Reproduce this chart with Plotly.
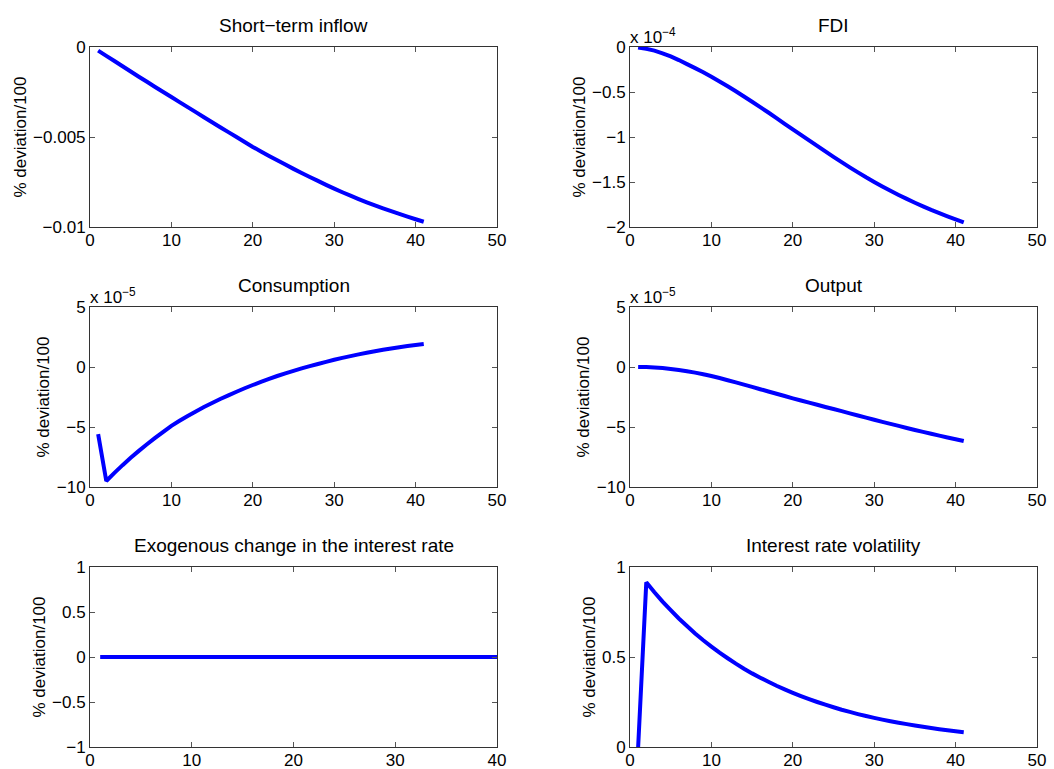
import plotly.graph_objects as go

# ---------------- data ----------------
periods = list(range(1, 42))

short_term_inflow = [
    -0.00020, -0.00049, -0.00078, -0.00107, -0.00136, -0.00165, -0.00193, -0.00222, -0.00250, -0.00278,
    -0.00306, -0.00334, -0.00362, -0.00390, -0.00418, -0.00446, -0.00473, -0.00500, -0.00528, -0.00555,
    -0.00580, -0.00605, -0.00629, -0.00653, -0.00677, -0.00700, -0.00722, -0.00744, -0.00766, -0.00787,
    -0.00807, -0.00826, -0.00845, -0.00863, -0.00880, -0.00896, -0.00912, -0.00927, -0.00942, -0.00957,
    -0.00971,
]

# FDI in units of 1e-4
fdi_e4 = [
    -0.005, -0.02, -0.04, -0.07, -0.105, -0.145, -0.19, -0.235, -0.28, -0.33,
    -0.383, -0.437, -0.492, -0.55, -0.608, -0.668, -0.728, -0.79, -0.853, -0.915,
    -0.977, -1.038, -1.099, -1.16, -1.22, -1.279, -1.337, -1.393, -1.448, -1.50,
    -1.55, -1.598, -1.644, -1.688, -1.73, -1.771, -1.81, -1.846, -1.881, -1.915,
    -1.948,
]

# Consumption in units of 1e-5
consumption_e5 = [
    -5.6, -9.5, -8.82, -8.18, -7.57, -6.99, -6.44, -5.91, -5.40, -4.90,
    -4.48, -4.08, -3.70, -3.34, -3.00, -2.67, -2.36, -2.06, -1.77, -1.50,
    -1.24, -0.99, -0.75, -0.53, -0.32, -0.12, 0.07, 0.25, 0.43, 0.60,
    0.76, 0.91, 1.05, 1.185, 1.315, 1.435, 1.545, 1.65, 1.75, 1.84,
    1.92,
]

# Output in units of 1e-5
output_e5 = [
    0.0, -0.01, -0.04, -0.09, -0.16, -0.25, -0.35, -0.47, -0.60, -0.75,
    -0.92, -1.10, -1.28, -1.47, -1.66, -1.85, -2.04, -2.23, -2.42, -2.61,
    -2.79, -2.97, -3.15, -3.33, -3.50, -3.68, -3.86, -4.04, -4.22, -4.40,
    -4.57, -4.74, -4.91, -5.08, -5.25, -5.41, -5.56, -5.72, -5.87, -6.02,
    -6.17,
]

exogenous_rate = [0.0] * 41

rate_volatility = [
    0.0, 0.915, 0.860, 0.808, 0.760, 0.714, 0.672, 0.631, 0.593, 0.558,
    0.524, 0.493, 0.463, 0.435, 0.409, 0.385, 0.362, 0.340, 0.320, 0.301,
    0.283, 0.266, 0.250, 0.235, 0.221, 0.207, 0.195, 0.183, 0.172, 0.162,
    0.152, 0.143, 0.135, 0.127, 0.119, 0.112, 0.105, 0.099, 0.093, 0.087,
    0.082,
]

titles = [
    "Short\u2212term inflow", "FDI",
    "Consumption", "Output",
    "Exogenous change in the interest rate", "Interest rate volatility",
]
series = [short_term_inflow, fdi_e4, consumption_e5, output_e5, exogenous_rate, rate_volatility]
exponents = [None, "\u22124", "\u22125", "\u22125", None, None]

x_ticks_50 = [0, 10, 20, 30, 40, 50]
x_ticks_40 = [0, 10, 20, 30, 40]
y_ticks = [
    ([-0.01, -0.005, 0], ["\u22120.01", "\u22120.005", "0"]),
    ([-2, -1.5, -1, -0.5, 0], ["\u22122", "\u22121.5", "\u22121", "\u22120.5", "0"]),
    ([-10, -5, 0, 5], ["\u221210", "\u22125", "0", "5"]),
    ([-10, -5, 0, 5], ["\u221210", "\u22125", "0", "5"]),
    ([-1, -0.5, 0, 0.5, 1], ["\u22121", "\u22120.5", "0", "0.5", "1"]),
    ([0, 0.5, 1], ["0", "0.5", "1"]),
]
y_ranges = [[-0.01, 0], [-2, 0], [-10, 5], [-10, 5], [-1, 1], [0, 1]]
x_ranges = [[0, 50], [0, 50], [0, 50], [0, 50], [0, 40], [0, 50]]
ylabel = "% deviation/100"

# ---------------- layout ----------------
W, H = 1054, 769
col_px = [(90, 497), (630, 1037)]
row_px = [(47, 227), (307, 487), (567, 747)]

FONT = "Liberation Sans, Arial, Helvetica, sans-serif"
fig = go.Figure()
annotations = []
layout_axes = {}

for i in range(6):
    r, c = divmod(i, 2)
    n = i + 1
    xa = "x" if n == 1 else f"x{n}"
    ya = "y" if n == 1 else f"y{n}"
    xdom = [col_px[c][0] / W, col_px[c][1] / W]
    ydom = [1 - row_px[r][1] / H, 1 - row_px[r][0] / H]

    fig.add_trace(go.Scatter(
        x=periods, y=series[i], mode="lines",
        line=dict(color="#0000FF", width=4, simplify=False),
        xaxis=xa, yaxis=ya, showlegend=False, hoverinfo="x+y",
    ))

    xt = x_ticks_40 if x_ranges[i][1] == 40 else x_ticks_50
    axis_common = dict(
        showgrid=False, zeroline=False, showline=True, mirror="ticks",
        linecolor="#333333", linewidth=1, ticks="inside", ticklen=5,
        tickcolor="#555555", tickwidth=1,
        tickfont=dict(family=FONT, size=17, color="black"),
        automargin=False,
    )
    layout_axes[("xaxis" if n == 1 else f"xaxis{n}")] = dict(
        domain=xdom, range=x_ranges[i], anchor=ya,
        tickvals=xt, ticktext=[str(v) for v in xt],
        ticklabelstandoff=-2, **axis_common,
    )
    layout_axes[("yaxis" if n == 1 else f"yaxis{n}")] = dict(
        domain=ydom, range=y_ranges[i], anchor=xa,
        tickvals=y_ticks[i][0], ticktext=y_ticks[i][1],
        title=dict(text=ylabel, standoff=2, font=dict(family=FONT, size=17, color="black")),
        **axis_common,
    )

    # subplot title
    annotations.append(dict(
        text=titles[i], xref="paper", yref="paper",
        x=(xdom[0] + xdom[1]) / 2, y=ydom[1], xanchor="center", yanchor="bottom",
        yshift=9, showarrow=False, font=dict(family=FONT, size=19, color="black"),
    ))
    # exponent label
    if exponents[i]:
        annotations.append(dict(
            text=f"x 10<sup>{exponents[i]}</sup>", xref="paper", yref="paper",
            x=xdom[0], y=ydom[1], xanchor="left", yanchor="bottom", xshift=-2, yshift=-2,
            showarrow=False, font=dict(family=FONT, size=17, color="black"),
        ))

fig.update_layout(
    width=W, height=H,
    margin=dict(l=0, r=0, t=0, b=0),
    paper_bgcolor="white", plot_bgcolor="white",
    annotations=annotations,
    font=dict(family=FONT, color="black"),
    **layout_axes,
)

fig.write_html(
    "out.html",
    config={"displayModeBar": False},
    post_script="document.body.style.margin='0';document.body.style.overflow='hidden';",
)
